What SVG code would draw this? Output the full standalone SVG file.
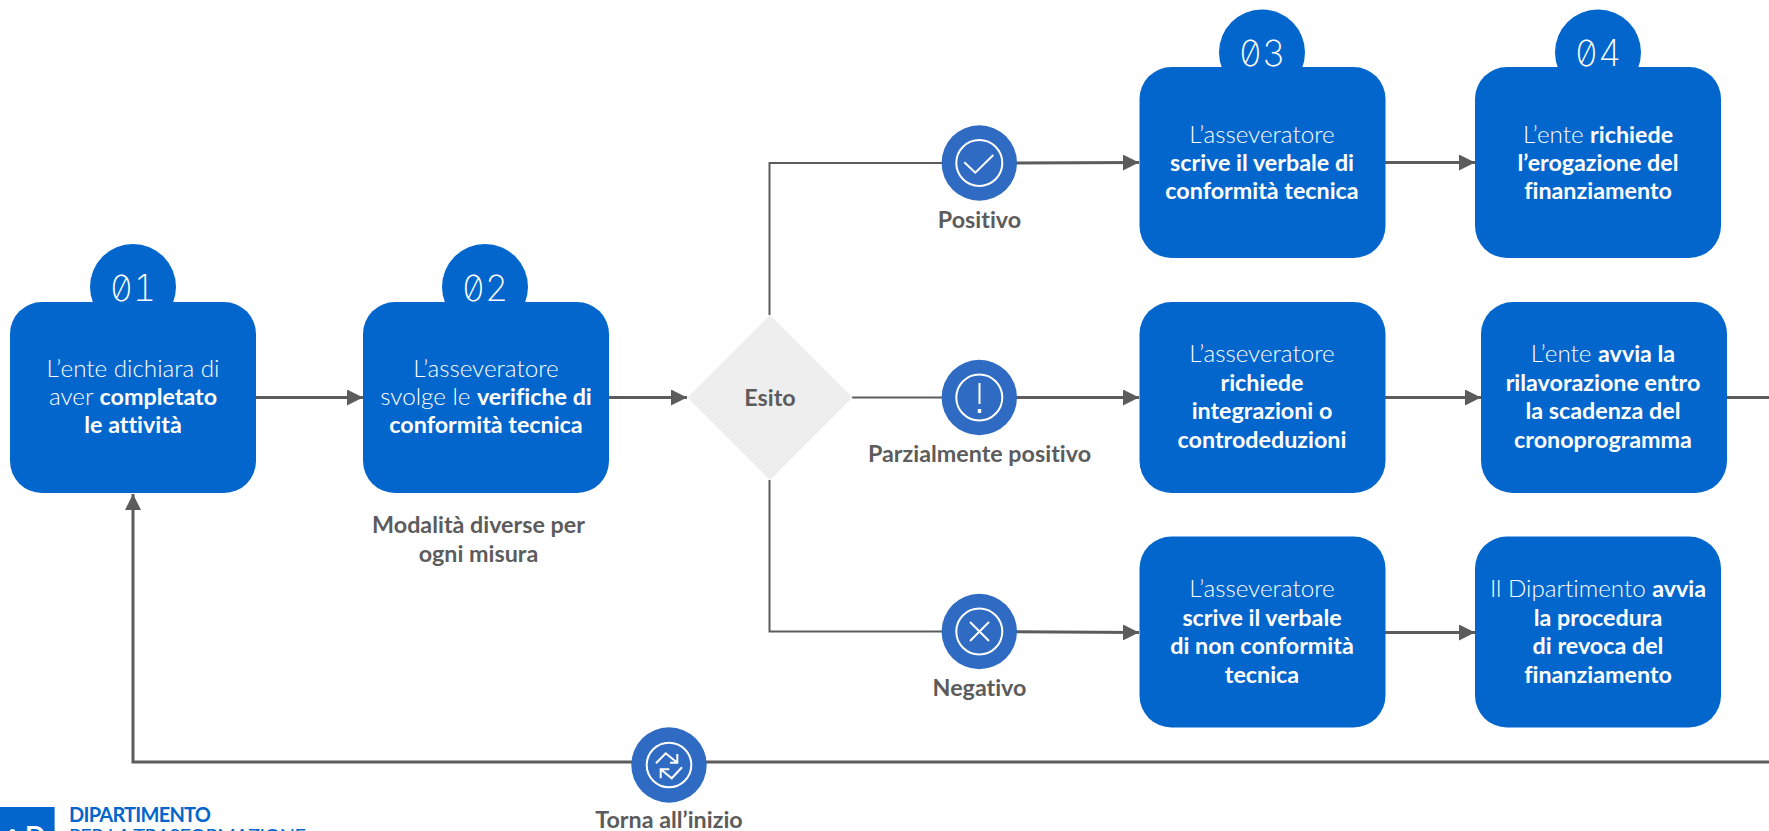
<svg xmlns="http://www.w3.org/2000/svg" width="1769" height="831" viewBox="0 0 1769 831">
<style>
text{font-family:"Lato","Noto Sans",sans-serif;text-anchor:middle;font-variant-ligatures:none}
.box{fill:#0366cc}
.t{fill:#fff;font-size:24.2px;font-weight:300}
.t .b{font-weight:700;font-size:23.3px}
.num{fill:#fff;font-family:"Inter",sans-serif;font-size:36px;font-weight:200;font-feature-settings:"zero","tnum"}
.lab{fill:#5c5c5c;font-size:23.3px;font-weight:700}
.c{fill:none;stroke:#5c5c5c;stroke-width:3}
.d{fill:none;stroke:#5c5c5c;stroke-width:2}
.ic{fill:#2f6bc3}
.ring{fill:none;stroke:#fff;stroke-width:2}
.lg{text-anchor:start;font-size:20px;fill:#0366cc}
</style>
<defs>
<marker id="ah" markerUnits="userSpaceOnUse" markerWidth="16" markerHeight="16" refX="16" refY="8" orient="auto"><path d="M0 0L16 8L0 16Z" fill="#5c5c5c"/></marker>
</defs>
<g id="connectors">
<path class="c" d="M256 397.5H363" marker-end="url(#ah)"/>
<path class="c" d="M609 397.5H687" marker-end="url(#ah)"/>
<path class="d" d="M769.5 315V163H979"/>
<path class="c" d="M979 163L1139 162.5" marker-end="url(#ah)"/>
<path class="d" d="M852 397.5H979"/>
<path class="c" d="M979 397.5H1139" marker-end="url(#ah)"/>
<path class="d" d="M769.5 480V631.5H979"/>
<path class="c" d="M979 631.5L1139 632.5" marker-end="url(#ah)"/>
<path class="c" d="M1385 162.5H1475" marker-end="url(#ah)"/>
<path class="c" d="M1385 397.5H1481" marker-end="url(#ah)"/>
<path class="c" d="M1385 632.5H1475" marker-end="url(#ah)"/>
<path class="c" d="M1726 397.5H1769"/>
<path class="c" d="M1769 762H133V494" marker-end="url(#ah)"/>
</g>
<g id="n01"><circle class="box" cx="133" cy="287" r="43"/><rect class="box" x="10" y="302" width="246" height="191" rx="32"/><text class="num" x="133" y="300.5">01</text>
<text class="t"><tspan x="133" y="376.5">L’ente dichiara di</tspan><tspan x="133" y="405">aver <tspan class="b">completato</tspan></tspan><tspan x="133" y="433" class="b">le attività</tspan></text></g>
<g id="n02"><circle class="box" cx="485" cy="287" r="43"/><rect class="box" x="363" y="302" width="246" height="191" rx="32"/><text class="num" x="485" y="300.5">02</text>
<text class="t"><tspan x="486" y="376.5">L’asseveratore</tspan><tspan x="486" y="405">svolge le <tspan class="b">verifiche di</tspan></tspan><tspan x="486" y="433" class="b">conformità tecnica</tspan></text></g>
<g id="note"><text class="lab"><tspan x="478.5" y="532.5">Modalità diverse per</tspan><tspan x="478.5" y="561.5">ogni misura</tspan></text></g>
<g id="esito"><path d="M770 315L852.5 397.5L770 480L687.5 397.5Z" fill="#eee"/><text class="lab" x="770" y="405.5">Esito</text></g>
<g id="positivo"><circle class="ic" cx="979.3" cy="163" r="37.7"/><circle class="ring" cx="979.3" cy="163" r="23"/><path class="ring" d="M964.3 162.3L975.3 172.7L993.3 155"/><text class="lab" x="979.5" y="227.5">Positivo</text></g>
<g id="parziale"><circle class="ic" cx="979.3" cy="397.5" r="37.7"/><circle class="ring" cx="979.3" cy="397.5" r="23"/><path class="ring" d="M979.5 383V404"/><rect x="977.8" y="409" width="3.4" height="4" fill="#fff"/><text class="lab" x="979.5" y="461.5">Parzialmente positivo</text></g>
<g id="negativo"><circle class="ic" cx="979.3" cy="631.5" r="37.7"/><circle class="ring" cx="979.3" cy="631.5" r="23"/><path class="ring" d="M970 622L989 641M989 622L970 641"/><text class="lab" x="979.5" y="695.5">Negativo</text></g>
<g id="n03"><circle class="box" cx="1262" cy="52.5" r="43"/><rect class="box" x="1139.5" y="67" width="246" height="191" rx="32"/><text class="num" x="1262" y="65.5">03</text>
<text class="t"><tspan x="1262" y="142.5">L’asseveratore</tspan><tspan x="1262" y="171" class="b">scrive il verbale di</tspan><tspan x="1262" y="199" class="b">conformità tecnica</tspan></text></g>
<g id="n04"><circle class="box" cx="1598" cy="52.5" r="43"/><rect class="box" x="1475" y="67" width="246" height="191" rx="32"/><text class="num" x="1598" y="65.5">04</text>
<text class="t"><tspan x="1598" y="142.5">L’ente <tspan class="b">richiede</tspan></tspan><tspan x="1598" y="171" class="b">l’erogazione del</tspan><tspan x="1598" y="199" class="b">finanziamento</tspan></text></g>
<g id="n05"><rect class="box" x="1139.5" y="302" width="246" height="191" rx="32"/>
<text class="t"><tspan x="1262" y="361.5">L’asseveratore</tspan><tspan x="1262" y="390.5" class="b">richiede</tspan><tspan x="1262" y="419" class="b">integrazioni o</tspan><tspan x="1262" y="447.5" class="b">controdeduzioni</tspan></text></g>
<g id="n06"><rect class="box" x="1481" y="302" width="246" height="191" rx="32"/>
<text class="t"><tspan x="1603" y="361.5">L’ente <tspan class="b">avvia la</tspan></tspan><tspan x="1603" y="390.5" class="b">rilavorazione entro</tspan><tspan x="1603" y="419" class="b">la scadenza del</tspan><tspan x="1603" y="447.5" class="b">cronoprogramma</tspan></text></g>
<g id="n07"><rect class="box" x="1139.5" y="536.5" width="246" height="191" rx="32"/>
<text class="t"><tspan x="1262" y="596.5">L’asseveratore</tspan><tspan x="1262" y="625.5" class="b">scrive il verbale</tspan><tspan x="1262" y="653.5" class="b">di non conformità</tspan><tspan x="1262" y="682.5" class="b">tecnica</tspan></text></g>
<g id="n08"><rect class="box" x="1475" y="536.5" width="246" height="191" rx="32"/>
<text class="t"><tspan x="1598" y="596.5">Il Dipartimento <tspan class="b">avvia</tspan></tspan><tspan x="1598" y="625.5" class="b">la procedura</tspan><tspan x="1598" y="653.5" class="b">di revoca del</tspan><tspan x="1598" y="682.5" class="b">finanziamento</tspan></text></g>
<g id="torna"><circle class="ic" cx="669" cy="765" r="37.7"/><circle class="ring" cx="669" cy="765" r="22.3"/><path class="ring" d="M656 763.3L665.7 753.3L677.3 762.7M677.3 754V762.7H670M682 767.3L671.7 778.3L660.7 769.3M660.7 778.3V769.3H669.3"/><text class="lab" x="669" y="828">Torna all’inizio</text></g>
<g id="logo"><rect x="0" y="807" width="54.6" height="30" fill="#0366cc"/><circle cx="12.5" cy="832" r="3" fill="#fff"/>
<text x="25" y="845" style="text-anchor:start;font-size:27px;font-weight:700;fill:#fff">D</text>
<text class="lg" x="69" y="821.5" textLength="142" style="font-weight:700">DIPARTIMENTO</text>
<text class="lg" x="69" y="843" textLength="237" style="font-weight:400">PER LA TRASFORMAZIONE</text></g>
</svg>
